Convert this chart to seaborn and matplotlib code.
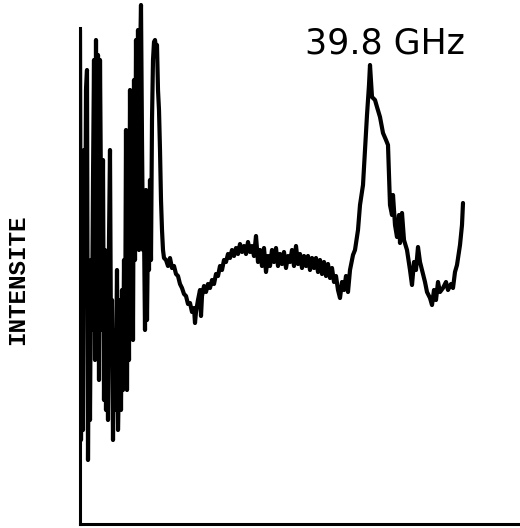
import matplotlib
matplotlib.use("Agg")
import matplotlib.pyplot as plt
import seaborn as sns
import pandas as pd

sns.set_style("ticks")

# channel (arbitrary sweep units) and detected intensity
channel = [0, 1, 2, 3, 4, 5, 6, 7, 8, 9, 10, 11, 12, 13, 14, 15, 16, 17, 18, 19,
           20, 21, 22, 23, 24, 25, 26, 27, 28, 29, 30, 31, 32, 33, 34, 35, 36, 37, 38, 39,
           40, 41, 42, 43, 44, 45, 46, 47, 48, 49, 50, 51, 52, 53, 54, 55, 56, 57, 58, 59,
           60, 61, 62, 63, 64, 65, 66, 67, 68, 69, 70, 71, 72, 73, 74, 75, 76, 77, 78, 79,
           80, 81, 82, 83, 84,
           86, 88, 90, 92, 94, 96, 98, 100, 102, 104, 106, 108, 110, 112, 114, 115, 116, 118,
           120, 121, 122, 124, 126, 128, 130, 132, 134, 136, 138, 140, 142, 144, 146, 148,
           150, 152, 154, 156, 158, 160, 162, 164, 166, 168, 170, 172, 174, 176, 178, 180,
           182, 184, 186, 188, 190, 192, 194, 196, 198, 200, 202, 204, 206, 208, 210, 212,
           214, 216, 218, 220, 222, 224, 226, 228, 230, 232, 234, 236, 238, 240, 242, 244,
           246, 248, 250, 252, 254, 256, 258, 260, 262, 264, 266, 268, 270,
           273, 275, 278, 280, 283, 285, 287, 289, 290, 292, 295, 297, 300, 303, 306, 308,
           309, 310, 312, 313, 315, 317, 319, 320, 322, 324, 327, 330, 332, 334, 336, 338,
           340, 342, 345, 347, 350, 352, 354, 356, 358, 360, 363, 366, 368, 371, 373, 375,
           377, 380, 382, 383]
intensity = [494, 84, 244, 94, 374, 224, 434, 454, 64, 224, 104, 264, 194, 344, 464, 164, 484, 224, 469, 144,
             464, 324, 194, 364, 124, 274, 114, 224, 104, 284, 374, 174, 224, 84, 194, 114, 154, 254, 94, 144,
             224, 114, 234, 134, 264, 154, 394, 134, 314, 164, 434, 224, 424, 184, 444, 264, 484, 324, 494, 274,
             464, 519, 384, 274, 294, 194, 334, 204, 294, 254, 344, 264, 404, 464, 482, 484, 476, 479, 434, 414,
             374, 324, 294, 274, 266,
             264, 258, 266, 256, 258, 250, 248, 240, 236, 230, 228, 220, 221, 212, 216, 201, 212, 224,
             234, 208, 228, 238, 232, 240, 236, 244, 240, 250, 248, 258, 254, 264, 262, 270,
             266, 274, 268, 276, 270, 280, 272, 278, 270, 282, 272, 278, 268, 288, 262, 274,
             258, 276, 252, 268, 258, 274, 262, 276, 258, 270, 260, 272, 256, 268, 262, 274,
             258, 278, 260, 270, 256, 268, 258, 268, 254, 266, 256, 266, 252, 264, 250, 262,
             248, 260, 246, 256, 242, 248, 234, 226, 242, 234, 248, 232, 254,
             269, 274, 294, 319, 339, 374, 409, 439, 459, 427, 424, 417, 407, 391, 384, 379,
             349, 319, 309, 329, 299, 287, 309, 281, 311, 284, 274, 254, 239, 262, 254, 277,
             262, 254, 242, 232, 226, 219, 234, 224, 242, 232, 236, 242, 234, 240, 236, 252,
             259, 279, 299, 321]

PEAK_LABEL = "39.8 GHz"
Y_LABEL = "INTENSITE"

df = pd.DataFrame({"channel": channel, "intensity": intensity})

fig = plt.figure(figsize=(5.2, 5.28), dpi=100)
ax = fig.add_axes([80 / 520, 4 / 528, 440 / 520, 524 / 528])

sns.lineplot(data=df, x="channel", y="intensity", sort=False, estimator=None,
             color="black", linewidth=3.0, ax=ax)

ax.set_xlim(0, 440)
ax.set_ylim(0, 524)
ax.set_xticks([]); ax.set_yticks([])
ax.set_xlabel(""); ax.set_ylabel("")
sns.despine(ax=ax)
for side in ["left", "bottom"]:
    ax.spines[side].set_linewidth(2.2)
    ax.spines[side].set_color("black")
ax.spines["left"].set_bounds(0, 496)

ax.text(305, 481, PEAK_LABEL, ha="center", va="center", fontsize=25,
        color="black", family="DejaVu Sans")
fig.text(18 / 520, 1 - 280 / 528, Y_LABEL, rotation=90, ha="center", va="center",
         fontsize=17.5, fontweight="bold", color="black", family="Liberation Mono")

fig.savefig("out.png", dpi=100)
